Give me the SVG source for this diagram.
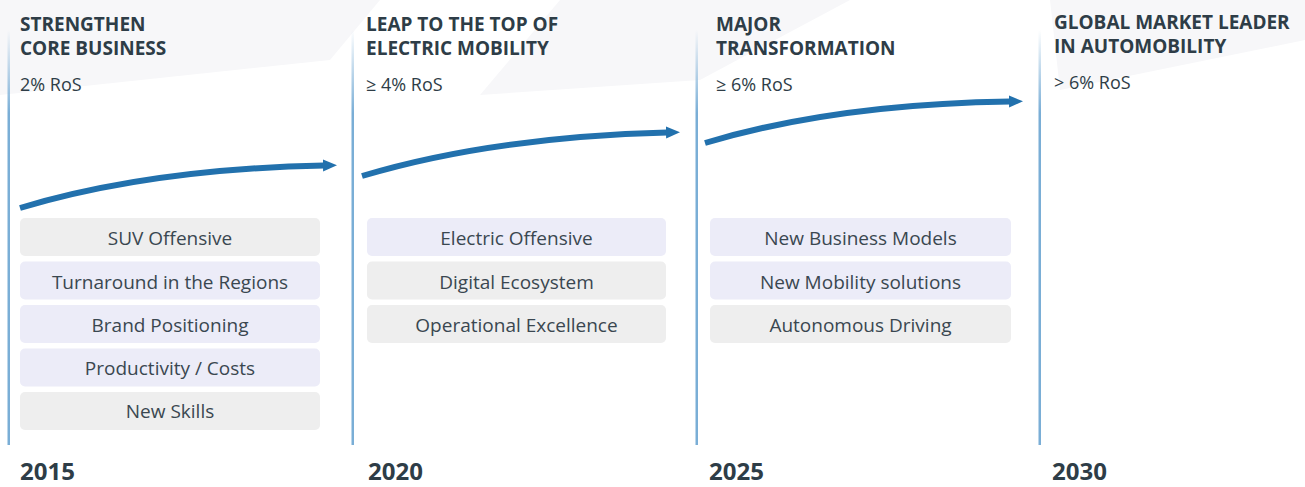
<svg xmlns="http://www.w3.org/2000/svg" width="1305" height="487" viewBox="0 0 1305 487">
<defs>
<linearGradient id="vline" x1="0" y1="0" x2="0" y2="1">
<stop offset="0" stop-color="#7aaed6" stop-opacity="0"/>
<stop offset="0.2" stop-color="#7aaed6" stop-opacity="1"/>
<stop offset="1" stop-color="#7aaed6" stop-opacity="1"/>
</linearGradient>
<marker id="ah" markerUnits="userSpaceOnUse" markerWidth="16" markerHeight="14" refX="1" refY="7" orient="auto">
<polygon points="0,1 14,7 0,13" fill="#2271ad"/>
</marker>
<style>
.title{font-family:"Open Sans","Noto Sans","Liberation Sans",sans-serif;font-weight:700;font-size:19px;fill:#2e3d47}
.ros{font-family:"Open Sans","Noto Sans","Liberation Sans",sans-serif;font-size:18px;fill:#2e3d47}
.year{font-family:"Open Sans","Noto Sans","Liberation Sans",sans-serif;font-weight:700;font-size:24px;fill:#2e3d47}
.lbl{font-family:"Open Sans","Noto Sans","Liberation Sans",sans-serif;font-size:19px;fill:#3a4750;text-anchor:middle}
.bx{fill:#eeeeee}
.bl{fill:#ececf8}
.arrow{fill:none;stroke:#2271ad;stroke-width:6;marker-end:url(#ah)}
</style>
</defs>
<rect width="1305" height="487" fill="#ffffff"/>
<g id="bg" fill="#f7f7f9">
<polygon points="0,0 380,0 330,60 0,95"/>
<polygon points="560,0 850,0 700,80 480,95"/>
<polygon points="1050,0 1305,0 1305,40 1060,90"/>
</g>
<g id="lines">
<rect x="7.5" y="30" width="2.5" height="415" fill="url(#vline)"/>
<rect x="351.5" y="30" width="2.5" height="415" fill="url(#vline)"/>
<rect x="695.5" y="30" width="2.5" height="415" fill="url(#vline)"/>
<rect x="1038.5" y="30" width="2.5" height="415" fill="url(#vline)"/>
</g>
<g id="connectors">
<path class="arrow" d="M20,208 Q150,169 324,165.5"/>
<path class="arrow" d="M362,176 Q492,137 667,132.5"/>
<path class="arrow" d="M705,143 Q835,104 1010,101.5"/>
</g>
<g id="phase-2015">
<text class="title" x="20" y="30.5">STRENGTHEN</text>
<text class="title" x="20" y="55">CORE BUSINESS</text>
<text class="ros" x="20" y="91">2% RoS</text>
<text class="year" x="20" y="480">2015</text>
</g>
<g id="phase-2020">
<text class="title" x="366" y="30.5">LEAP TO THE TOP OF</text>
<text class="title" x="366" y="55">ELECTRIC MOBILITY</text>
<text class="ros" x="366" y="91">≥ 4% RoS</text>
<text class="year" x="368" y="480">2020</text>
</g>
<g id="phase-2025">
<text class="title" x="716" y="30.5">MAJOR</text>
<text class="title" x="716" y="55">TRANSFORMATION</text>
<text class="ros" x="716" y="91">≥ 6% RoS</text>
<text class="year" x="709" y="480">2025</text>
</g>
<g id="phase-2030">
<text class="title" x="1054" y="28.5">GLOBAL MARKET LEADER</text>
<text class="title" x="1054" y="53">IN AUTOMOBILITY</text>
<text class="ros" x="1054" y="89">&gt; 6% RoS</text>
<text class="year" x="1052" y="480">2030</text>
</g>
<g id="box-suv"><rect class="bx" x="20" y="218" width="300" height="38" rx="5"/><text class="lbl" x="170" y="244.5">SUV Offensive</text></g>
<g id="box-turnaround"><rect class="bl" x="20" y="261.5" width="300" height="38" rx="5"/><text class="lbl" x="170" y="288.5">Turnaround in the Regions</text></g>
<g id="box-brand"><rect class="bl" x="20" y="305" width="300" height="38" rx="5"/><text class="lbl" x="170" y="331.5">Brand Positioning</text></g>
<g id="box-productivity"><rect class="bl" x="20" y="348.5" width="300" height="38" rx="5"/><text class="lbl" x="170" y="375">Productivity / Costs</text></g>
<g id="box-skills"><rect class="bx" x="20" y="392" width="300" height="38" rx="5"/><text class="lbl" x="170" y="418">New Skills</text></g>
<g id="box-electric"><rect class="bl" x="367" y="218" width="299" height="38" rx="5"/><text class="lbl" x="516.5" y="244.5">Electric Offensive</text></g>
<g id="box-digital"><rect class="bx" x="367" y="261.5" width="299" height="38" rx="5"/><text class="lbl" x="516.5" y="288.5">Digital Ecosystem</text></g>
<g id="box-operational"><rect class="bx" x="367" y="305" width="299" height="38" rx="5"/><text class="lbl" x="516.5" y="331.5">Operational Excellence</text></g>
<g id="box-business"><rect class="bl" x="710" y="218" width="301" height="38" rx="5"/><text class="lbl" x="860.5" y="244.5">New Business Models</text></g>
<g id="box-mobility"><rect class="bl" x="710" y="261.5" width="301" height="38" rx="5"/><text class="lbl" x="860.5" y="288.5">New Mobility solutions</text></g>
<g id="box-autonomous"><rect class="bx" x="710" y="305" width="301" height="38" rx="5"/><text class="lbl" x="860.5" y="331.5">Autonomous Driving</text></g>
</svg>
